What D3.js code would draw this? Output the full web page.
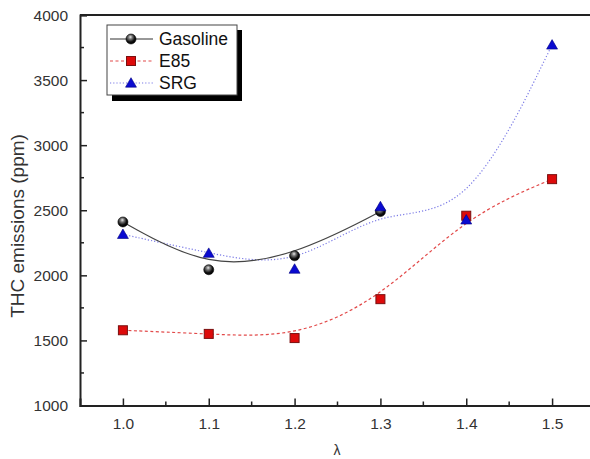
<!DOCTYPE html>
<html><head><meta charset="utf-8">
<script src="https://cdn.jsdelivr.net/npm/d3@7"></script>
<style>body{margin:0;background:#fff}svg{display:block}</style>
</head><body><svg id="c" width="590" height="459"></svg>
<script>
const lambdas = [1.0, 1.1, 1.2, 1.3, 1.4, 1.5];
const gasolineX = [1.0, 1.1, 1.2, 1.3];
const gasoline = [2410, 2043, 2150, 2490];
const e85 = [1578, 1550, 1518, 1817, 2458, 2739];
const srg = [2315, 2170, 2048, 2528, 2426, 3770];
const yTicks = [1000, 1500, 2000, 2500, 3000, 3500, 4000];
const yMinor = [1250, 1750, 2250, 2750, 3250, 3750];
const xMinor = [1.05, 1.15, 1.25, 1.35, 1.45];
const seriesNames = ["Gasoline", "E85", "SRG"];

const svg = d3.select("#c");
const x = d3.scaleLinear().domain([0.95, 1.55]).range([80, 595]);
const y = d3.scaleLinear().domain([1000, 4000]).range([405.5, 15]);
const font = "Arial, 'Liberation Sans', sans-serif";

const defs = svg.append("defs");
const g = defs.append("radialGradient").attr("id","ball").attr("cx","40%").attr("cy","35%").attr("r","65%").attr("fx","45%").attr("fy","30%");
g.append("stop").attr("offset","0%").attr("stop-color","#e8e8e8");
g.append("stop").attr("offset","30%").attr("stop-color","#777");
g.append("stop").attr("offset","70%").attr("stop-color","#111");
g.append("stop").attr("offset","100%").attr("stop-color","#000");

// axes
const xAxis = d3.axisBottom(x).tickValues(lambdas).tickSize(-7).tickPadding(12).tickFormat(d3.format(".1f"));
const yAxis = d3.axisLeft(y).tickValues(yTicks).tickSize(-7).tickPadding(12).tickFormat(d3.format("d"));
const gx = svg.append("g").attr("transform", `translate(0,${y(1000)})`).call(xAxis);
const gy = svg.append("g").attr("transform", `translate(${x(0.95)},0)`).call(yAxis);
[gx, gy].forEach(a => {
  a.select(".domain").attr("stroke", "#222").attr("stroke-width", 2);
  a.selectAll(".tick line").attr("stroke", "#222").attr("stroke-width", 1.5);
  a.selectAll("text").attr("font-family", font).attr("font-size", 15.5).attr("fill", "#333");
});
gy.selectAll("text").attr("dy", "0.35em");
gx.selectAll("text").attr("dy", "0.71em");
svg.append("g").selectAll("line").data(xMinor).join("line")
  .attr("x1", d => x(d)).attr("x2", d => x(d)).attr("y1", y(1000)).attr("y2", y(1000) - 4)
  .attr("stroke", "#222").attr("stroke-width", 1.5);
svg.append("g").selectAll("line").data(yMinor).join("line")
  .attr("x1", x(0.95)).attr("x2", x(0.95) + 4).attr("y1", d => y(d)).attr("y2", d => y(d))
  .attr("stroke", "#222").attr("stroke-width", 1.5);
// top frame
svg.append("line").attr("x1", x(0.95)).attr("x2", x(1.55)).attr("y1", y(4000)).attr("y2", y(4000))
  .attr("stroke", "#222").attr("stroke-width", 2);
svg.append("line").attr("x1", x(1.55)).attr("x2", x(1.55)).attr("y1", y(4000)).attr("y2", y(1000))
  .attr("stroke", "#222").attr("stroke-width", 2);

// labels
svg.append("text").attr("transform", `translate(24,226) rotate(-90)`).attr("text-anchor", "middle")
  .attr("font-family", font).attr("font-size", 19).attr("fill", "#333").text("THC emissions (ppm)");
svg.append("text").attr("x", 337).attr("y", 455).attr("text-anchor", "middle")
  .attr("font-family", font).attr("font-size", 14).attr("fill", "#333").text("λ");

// curves
const line = d3.line().curve(d3.curveBasis).x(d => x(d[0])).y(d => y(d[1]));
const gasData = gasolineX.map((l, i) => [l, gasoline[i]]);
const e85Data = lambdas.map((l, i) => [l, e85[i]]);
const srgData = lambdas.map((l, i) => [l, srg[i]]);
svg.append("path").datum(srgData).attr("d", line).attr("fill", "none")
  .attr("stroke", "#7b7be6").attr("stroke-width", 1.2).attr("stroke-dasharray", "1.2,2");
svg.append("path").datum(e85Data).attr("d", line).attr("fill", "none")
  .attr("stroke", "#e24a4a").attr("stroke-width", 1.2).attr("stroke-dasharray", "3,2.5");
svg.append("path").datum(gasData).attr("d", line).attr("fill", "none")
  .attr("stroke", "#444").attr("stroke-width", 1.2);

const tri = d3.symbol().type(d3.symbolTriangle).size(52);
function drawCircle(sel, cx, cy) { sel.append("circle").attr("cx", cx).attr("cy", cy).attr("r", 5).attr("fill", "url(#ball)").attr("stroke","#000").attr("stroke-width",0.6); }
function drawSquare(sel, cx, cy) { sel.append("rect").attr("x", cx - 4.5).attr("y", cy - 4.5).attr("width", 9).attr("height", 9).attr("fill", "#dd0a0a").attr("stroke", "#7a1010").attr("stroke-width", 1); }
function drawTri(sel, cx, cy) { sel.append("path").attr("d", tri).attr("transform", `translate(${cx},${cy + 1})`).attr("fill", "#0a0ad0").attr("stroke", "#000080").attr("stroke-width", 0.6); }

const mk = svg.append("g");
e85Data.forEach(d => drawSquare(mk, x(d[0]), y(d[1])));
gasData.forEach(d => drawCircle(mk, x(d[0]), y(d[1])));
srgData.forEach(d => drawTri(mk, x(d[0]), y(d[1])));

// legend
const lg = svg.append("g");
lg.append("rect").attr("x", 112).attr("y", 30).attr("width", 130).attr("height", 71).attr("fill", "#000");
lg.append("rect").attr("x", 107).attr("y", 25).attr("width", 130).attr("height", 70).attr("fill", "#fff").attr("stroke", "#444").attr("stroke-width", 1);
const rows = [39, 61, 83];
lg.append("line").attr("x1", 110).attr("x2", 153).attr("y1", rows[0]).attr("y2", rows[0]).attr("stroke", "#333").attr("stroke-width", 1.2);
lg.append("line").attr("x1", 110).attr("x2", 153).attr("y1", rows[1]).attr("y2", rows[1]).attr("stroke", "#e24a4a").attr("stroke-width", 1.2).attr("stroke-dasharray", "3,2.5");
lg.append("line").attr("x1", 110).attr("x2", 153).attr("y1", rows[2]).attr("y2", rows[2]).attr("stroke", "#7b7be6").attr("stroke-width", 1.2).attr("stroke-dasharray", "1.2,2");
drawCircle(lg, 131, rows[0]);
drawSquare(lg, 131, rows[1]);
drawTri(lg, 131, rows[2]);
lg.selectAll("text.leg").data(seriesNames).join("text").attr("class","leg")
  .attr("x", 159).attr("y", (d, i) => rows[i]).attr("dy", "0.36em")
  .attr("font-family", font).attr("font-size", 17.5).attr("fill", "#111").text(d => d);
</script></body></html>
